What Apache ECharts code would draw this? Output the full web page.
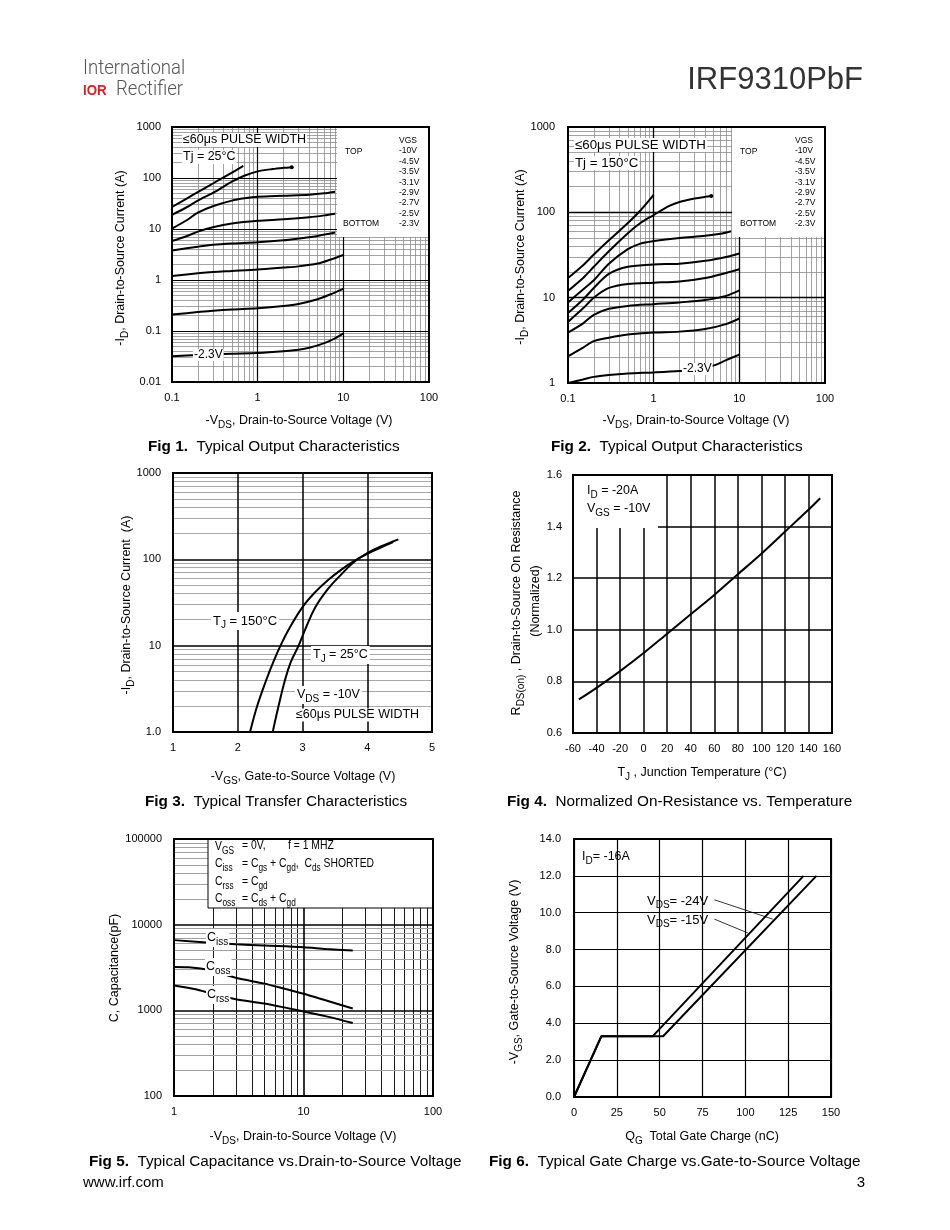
<!DOCTYPE html>
<html><head><meta charset="utf-8">
<script src="https://cdn.jsdelivr.net/npm/echarts@6/dist/echarts.min.js"></script>
<style>html,body{margin:0;padding:0;background:#fff}#c{width:950px;height:1230px}</style>
</head><body><div id="c"></div><script>
// ---------------- DATA ----------------
// Fig 1: Typical Output Characteristics, Tj = 25°C  [-VDS (V), -ID (A)]
const f1_10V = [[0.1,27],[0.15,40],[0.2,53],[0.3,78],[0.45,115],[0.68,172]];
const f1_4V5 = [[0.1,19],[0.15,27],[0.2,36],[0.32,54],[0.5,85],[0.71,112],[1,135],[1.5,150],[2,158],[2.5,163]];
const f1_3V5 = [[0.1,10.2],[0.15,15],[0.2,21],[0.3,28],[0.5,36],[0.7,40],[1,43],[2,45],[4,47],[6,50],[8,54]];
const f1_3V1 = [[0.1,5.8],[0.15,7.3],[0.2,8.9],[0.3,10.8],[0.5,12.8],[1,14.5],[2,15.5],[4,17],[6,18.5],[8,20]];
const f1_2V9 = [[0.1,3.8],[0.2,4.5],[0.3,4.9],[0.5,5.2],[1,5.5],[2,6],[3,6.5],[5,7.3],[8,8.5]];
const f1_2V7 = [[0.1,1.2],[0.2,1.35],[0.3,1.43],[0.5,1.5],[1,1.6],[2,1.75],[3,1.85],[5,2.1],[7,2.5],[10,3.1]];
const f1_2V5 = [[0.1,0.21],[0.2,0.235],[0.3,0.25],[0.5,0.265],[1,0.28],[2,0.31],[3,0.34],[5,0.42],[7,0.52],[10,0.67]];
const f1_2V3 = [[0.1,0.032],[0.2,0.034],[0.3,0.035],[0.5,0.036],[1,0.037],[2,0.04],[3,0.043],[4,0.047],[6,0.058],[8,0.072],[10,0.09]];
// Fig 2: Typical Output Characteristics, Tj = 150°C
const f2_10V = [[0.1,17],[0.15,24],[0.2,32],[0.3,47],[0.5,75],[0.7,105],[1,160]];
const f2_4V5 = [[0.1,12],[0.15,17],[0.2,23],[0.3,35],[0.5,57],[0.7,75],[1,93],[1.5,118],[2,132],[3,145],[4,152],[4.7,155]];
const f2_3V5 = [[0.1,8.8],[0.15,12.5],[0.2,16],[0.3,25],[0.5,37],[0.7,43],[1,46],[2,50],[4,53],[6,56],[8,60]];
const f2_3V1 = [[0.1,6.6],[0.15,9.5],[0.2,13],[0.3,19],[0.5,23],[1,24.5],[2,25],[4,27],[7,30],[10,33]];
const f2_2V9 = [[0.1,5.2],[0.15,7.5],[0.2,10],[0.3,13],[0.5,14.5],[1,15],[2,15.5],[4,17],[7,19.5],[10,21.5]];
const f2_2V7 = [[0.1,3.9],[0.15,5],[0.2,6.3],[0.3,7.4],[0.5,8],[1,8.4],[2,8.8],[4,9.4],[7,10.5],[10,12.2]];
const f2_2V5 = [[0.1,2.05],[0.15,2.6],[0.2,3.1],[0.3,3.4],[0.5,3.7],[1,3.9],[2,4],[4,4.3],[7,4.9],[10,5.7]];
const f2_2V3 = [[0.1,1.0],[0.15,1.1],[0.2,1.18],[0.3,1.24],[0.5,1.29],[1,1.33],[2,1.38],[3,1.43],[5,1.6],[7,1.85],[10,2.15]];
// Fig 3: Typical Transfer Characteristics [-VGS (V), -ID (A)]
const f3_150C = [[2.19,1],[2.3,2],[2.44,4],[2.55,6.5],[2.66,10],[2.8,16],[3.0,28],[3.2,42],[3.4,58],[3.6,76],[3.8,96],[4.0,116],[4.2,136],[4.4,158]];
const f3_25C  = [[2.54,1],[2.63,2],[2.73,4],[2.82,6.5],[2.94,10],[3.05,16],[3.2,28],[3.4,46],[3.6,67],[3.8,94],[4.0,118],[4.2,140],[4.48,170]];
// Fig 4: Normalized On-Resistance vs. Temperature [TJ (°C), RDS(on) norm]
const f4_rdson = [[-55,0.73],[-40,0.775],[-20,0.84],[0,0.91],[20,0.985],[40,1.06],[60,1.135],[80,1.215],[100,1.295],[120,1.38],[140,1.465],[150,1.51]];
// Fig 5: Typical Capacitance [-VDS (V), C (pF)]
const f5_ciss = [[1,6600],[2,6100],[3,5900],[5,5700],[10,5450],[15,5200],[24,5000]];
const f5_coss = [[1,3200],[1.3,3180],[2,2900],[3,2400],[5,2050],[7,1800],[10,1560],[15,1300],[24,1050]];
const f5_crss = [[1,1950],[1.5,1750],[2,1550],[3,1350],[5,1200],[10,970],[15,850],[24,710]];
// Fig 6: Typical Gate Charge [QG (nC), -VGS (V)]
const f6_24V = [[0,0],[16,3.3],[52,3.3],[141.5,12]];
const f6_15V = [[0,0],[16,3.3],[46,3.3],[134,12]];
const f6_lead24 = [[82,10.7],[116,9.65]];
const f6_lead15 = [[82,9.65],[101.5,8.9]];
// Tick labels
const tkF1X = ['0.1','1','10','100'];
const tkF1Y = ['0.01','0.1','1','10','100','1000'];
const tkF2Y = ['1','10','100','1000'];
const tkF3Y = ['1.0','10','100','1000'];
const tkF5X = ['1','10','100'];
const tkF5Y = ['100','1000','10000','100000'];
const vgsList = ['VGS','-10V','-4.5V','-3.5V','-3.1V','-2.9V','-2.7V','-2.5V','-2.3V'];

// ---------------- LAYOUT / HELPERS ----------------
const FF = "'Liberation Sans', Arial, Helvetica, sans-serif";
const G = [
  {l:172, t:127, w:257, h:255},
  {l:568, t:127, w:257, h:256},
  {l:173, t:473, w:259, h:259},
  {l:573, t:475, w:259, h:258},
  {l:174, t:839, w:259, h:257},
  {l:574, t:839, w:257, h:258}
];
function pick(list){ return v => { const s = list.find(t => Math.abs(Number(t)-v) <= 1e-6*Math.max(1,Math.abs(v))); return s === undefined ? '' : s; }; }
function richSet(fs){
  return {
    n:{fontSize:fs, fontFamily:FF, fill:'#000', color:'#000'},
    s:{fontSize:Math.round(fs*0.8), fontFamily:FF, fill:'#000', color:'#000', padding:[Math.round(fs*0.6),0,0,0]},
    b:{fontSize:fs, fontFamily:FF, fontWeight:'bold', fill:'#000', color:'#000'}
  };
}
function toRich(str){
  return str.split(/(_\{[^}]*\}|\*\{[^}]*\})/).filter(p=>p!=='').map(p=>{
    if (p.startsWith('_{')) return '{s|'+p.slice(2,-1)+'}';
    if (p.startsWith('*{')) return '{b|'+p.slice(2,-1)+'}';
    return '{n|'+p+'}';
  }).join('');
}
function txt(str, x, y, o){
  o = o || {};
  const fs = o.fs || 12;
  const st = {
    text: o.raw ? str : toRich(str),
    fontSize: fs, fontFamily: o.ff || FF, fontWeight: o.fw || 'normal', fill: o.fill || '#000',
    align: o.align || 'left', textAlign: o.align || 'left',
    verticalAlign: o.va || 'middle', textVerticalAlign: o.va || 'middle'
  };
  if (!o.raw) st.rich = richSet(fs);
  if (o.lh) st.lineHeight = o.lh;
  if (o.bg) { st.backgroundColor = o.bg; st.padding = o.pad || [0,2,0,2]; }
  const el = {type:'text', x:x, y:y, rotation:o.rot||0, z:o.z||4, silent:true, style:st};
  if (o.sx) el.scaleX = o.sx;
  return el;
}
function rect(x,y,w,h,o){
  o = o || {};
  return {type:'rect', z:o.z||2, silent:true, shape:{x:x,y:y,width:w,height:h},
    style:{fill:o.fill===undefined?'#fff':o.fill, stroke:o.stroke||null, lineWidth:o.lw||0}};
}
function logMinor(lo, hi){ const out=[]; for(let d=lo; d<hi*0.999; d*=10){ for(let k=2;k<=9;k++) out.push(Number((d*k).toPrecision(6))); } return out; }
function logMajor(lo, hi){ const out=[]; for(let d=lo*10; d<hi*0.999; d*=10) out.push(Number(d.toPrecision(6))); return out; }
function ml(axis, vals, color, width){ return vals.map(v => ({[axis]:v, lineStyle:{color:color, width:width, type:'solid'}})); }
function gridSeries(i, items){
  return {type:'line', xAxisIndex:i, yAxisIndex:i, data:[], z:1, silent:true, animation:false,
    markLine:{silent:true, symbol:['none','none'], animation:false, z:1, label:{show:false},
      lineStyle:{type:'solid'}, data:items}};
}
function curve(i, data, extra){
  const s = {type:'line', xAxisIndex:i, yAxisIndex:i, data:data, z:3, smooth:0.3, symbol:'none', showSymbol:false,
    silent:true, animation:false, lineStyle:{color:'#000', width:2}};
  return Object.assign(s, extra||{});
}
function endDot(data){ return {symbol:'circle', symbolSize:4, silent:true, animation:false, itemStyle:{color:'#000'}, label:{show:false}, data:[{coord:data[data.length-1]}]}; }

const axLabel = {fontSize:11, fontFamily:FF, color:'#000', margin:11, showMinLabel:true, showMaxLabel:true};
function xa(i, cfg){ return Object.assign({gridIndex:i, axisLine:{show:false}, axisTick:{show:false}, splitLine:{show:false},
  axisLabel:Object.assign({}, axLabel, {margin:10})}, cfg); }
function ya(i, cfg){ return Object.assign({gridIndex:i, axisLine:{show:false}, axisTick:{show:false}, splitLine:{show:false},
  axisLabel:Object.assign({}, axLabel)}, cfg); }

const GRAY = '#8c8c8c', BLK = '#000';

// ---------------- GRID LINES ----------------
const gl1 = [].concat(ml('xAxis', logMinor(0.1,100), GRAY, 0.8), ml('yAxis', logMinor(0.01,1000), GRAY, 0.8),
                      ml('xAxis', logMajor(0.1,100), BLK, 1.2), ml('yAxis', logMajor(0.01,1000), BLK, 1.2));
const gl2 = [].concat(ml('xAxis', logMinor(0.1,100), GRAY, 0.8), ml('yAxis', logMinor(1,1000), GRAY, 0.8),
                      ml('xAxis', logMajor(0.1,100), BLK, 1.3), ml('yAxis', logMajor(1,1000), BLK, 1.3));
const gl3 = [].concat(ml('yAxis', logMinor(1,1000), '#a8a8a8', 1), ml('yAxis', logMajor(1,1000), BLK, 1.5),
                      ml('xAxis', [2,3,4], BLK, 1.5));
const gl5 = [].concat(ml('xAxis', logMinor(1,100), BLK, 0.9), ml('yAxis', logMinor(100,100000), '#a0a0a0', 1),
                      ml('xAxis', logMajor(1,100), BLK, 1.6), ml('yAxis', logMajor(100,100000), BLK, 1.5));
const lead6 = [
  [{coord:f6_lead24[0], lineStyle:{color:'#000', width:0.8, type:'solid'}},{coord:f6_lead24[1]}],
  [{coord:f6_lead15[0], lineStyle:{color:'#000', width:0.8, type:'solid'}},{coord:f6_lead15[1]}]
];

// ---------------- GRAPHICS ----------------
const gfx = [];
const LIGHT = "Roboto, 'Liberation Sans', sans-serif";
// header / footer
gfx.push(txt('International', 83, 69, {raw:true, fs:20, ff:LIGHT, fw:300, fill:'#555', sx:0.93}));
gfx.push(txt('IOR', 83, 91, {raw:true, fs:14, ff:FF, fw:'bold', fill:'#d3222a', sx:0.95}));
gfx.push(txt('Rectifier', 116, 90, {raw:true, fs:20, ff:LIGHT, fw:300, fill:'#555', sx:0.93}));
gfx.push(txt('IRF9310PbF', 863, 80, {raw:true, fs:31, fill:'#333', align:'right'}));
gfx.push(txt('www.irf.com', 83, 1183, {raw:true, fs:15}));
gfx.push(txt('3', 865, 1183, {raw:true, fs:15, align:'right'}));
// captions
const CF = 15.3;
gfx.push(txt('*{Fig 1.}  Typical Output Characteristics', 148, 447, {fs:CF}));
gfx.push(txt('*{Fig 2.}  Typical Output Characteristics', 551, 447, {fs:CF}));
gfx.push(txt('*{Fig 3.}  Typical Transfer Characteristics', 145, 802, {fs:CF}));
gfx.push(txt('*{Fig 4.}  Normalized On-Resistance vs. Temperature', 507, 802, {fs:CF}));
gfx.push(txt('*{Fig 5.}  Typical Capacitance vs.Drain-to-Source Voltage', 89, 1162, {fs:CF}));
gfx.push(txt('*{Fig 6.}  Typical Gate Charge vs.Gate-to-Source Voltage', 489, 1162, {fs:CF}));
// axis titles
const R = Math.PI/2, TF = 12.5;
gfx.push(txt('-I_{D}, Drain-to-Source Current (A)', 121, 258, {fs:TF, rot:R, align:'center'}));
gfx.push(txt('-V_{DS}, Drain-to-Source Voltage (V)', 299, 421, {fs:TF, align:'center'}));
gfx.push(txt('-I_{D}, Drain-to-Source Current (A)', 521, 257, {fs:TF, rot:R, align:'center'}));
gfx.push(txt('-V_{DS}, Drain-to-Source Voltage (V)', 696, 421, {fs:TF, align:'center'}));
gfx.push(txt('-I_{D}, Drain-to-Source Current  (A)', 127, 605, {fs:TF, rot:R, align:'center'}));
gfx.push(txt('-V_{GS}, Gate-to-Source Voltage (V)', 303, 777, {fs:TF, align:'center'}));
gfx.push(txt('R_{DS(on)} , Drain-to-Source On Resistance', 517, 603, {fs:TF, rot:R, align:'center'}));
gfx.push(txt('(Normalized)', 536, 601, {fs:TF, rot:R, align:'center'}));
gfx.push(txt('T_{J} , Junction Temperature (°C)', 702, 773, {fs:TF, align:'center'}));
gfx.push(txt('C, Capacitance(pF)', 115, 968, {fs:TF, rot:R, align:'center'}));
gfx.push(txt('-V_{DS}, Drain-to-Source Voltage (V)', 303, 1137, {fs:TF, align:'center'}));
gfx.push(txt('-V_{GS}, Gate-to-Source Voltage (V)', 515, 972, {fs:TF, rot:R, align:'center'}));
gfx.push(txt('Q_{G}  Total Gate Charge (nC)', 702, 1137, {fs:TF, align:'center'}));
// Fig1 annotations
gfx.push(rect(337, 128, 91, 109));
gfx.push(txt('≤60μs PULSE WIDTH', 182, 140, {raw:true, fs:12.5, bg:'#fff', pad:[1,1,0,1]}));
gfx.push(txt('Tj = 25°C', 182, 157, {raw:true, fs:12.5, bg:'#fff', pad:[1,1,0,1]}));
gfx.push(txt(vgsList.join('\n'), 399, 135.5, {raw:true, fs:8.5, va:'top', lh:10.4}));
gfx.push(txt('TOP', 345, 151.7, {raw:true, fs:8.5}));
gfx.push(txt('BOTTOM', 343, 224, {raw:true, fs:8.5}));
gfx.push(txt('-2.3V', 193, 355, {raw:true, fs:12, bg:'#fff', pad:[0,1,0,1]}));
// Fig2 annotations
gfx.push(rect(732, 128, 92, 109));
gfx.push(txt('≤60μs PULSE WIDTH', 574, 145, {raw:true, fs:13.3, bg:'#fff', pad:[1,1,0,1]}));
gfx.push(txt('Tj = 150°C', 574, 163, {raw:true, fs:13.3, bg:'#fff', pad:[1,1,0,1]}));
gfx.push(txt(vgsList.join('\n'), 795, 135.5, {raw:true, fs:8.5, va:'top', lh:10.4}));
gfx.push(txt('TOP', 740, 151.7, {raw:true, fs:8.5}));
gfx.push(txt('BOTTOM', 740, 224, {raw:true, fs:8.5}));
gfx.push(txt('-2.3V', 682, 369, {raw:true, fs:12, bg:'#fff', pad:[0,1,0,1]}));
// Fig3 annotations
gfx.push(txt('T_{J} = 150°C', 211, 621, {fs:13, bg:'#fff'}));
gfx.push(txt('T_{J} = 25°C', 311, 655, {fs:12.5, bg:'#fff'}));
gfx.push(txt('V_{DS} = -10V', 295, 695, {fs:12.5, bg:'#fff'}));
gfx.push(txt('≤60μs PULSE WIDTH', 295, 715, {raw:true, fs:12.5, bg:'#fff', pad:[0,1,0,1]}));
// Fig4 annotations
gfx.push(rect(574, 476, 84, 52));
gfx.push(txt('I_{D} = -20A', 587, 491, {fs:12.5}));
gfx.push(txt('V_{GS} = -10V', 587, 509, {fs:12.5}));
// Fig5 annotations
gfx.push(rect(208, 839, 225, 69, {stroke:'#000', lw:1}));
const BF = 12.5, BS = 0.83;
gfx.push(txt('V_{GS}', 215, 847, {fs:BF, sx:BS}));
gfx.push(txt('= 0V,', 242, 846, {fs:BF, sx:BS}));
gfx.push(txt('f = 1 MHZ', 288, 846, {raw:true, fs:BF, sx:BS}));
gfx.push(txt('C_{iss}', 215, 864, {fs:BF, sx:BS}));
gfx.push(txt('= C_{gs} + C_{gd},  C_{ds} SHORTED', 242, 864, {fs:BF, sx:BS}));
gfx.push(txt('C_{rss}', 215, 882, {fs:BF, sx:BS}));
gfx.push(txt('= C_{gd}', 242, 882, {fs:BF, sx:BS}));
gfx.push(txt('C_{oss}', 215, 899, {fs:BF, sx:BS}));
gfx.push(txt('= C_{ds} + C_{gd}', 242, 899, {fs:BF, sx:BS}));
gfx.push(txt('C_{iss}', 206, 938, {fs:12.5, bg:'#fff', pad:[0,1,0,1]}));
gfx.push(txt('C_{oss}', 205, 967, {fs:12.5, bg:'#fff', pad:[0,1,0,1]}));
gfx.push(txt('C_{rss}', 206, 995, {fs:12.5, bg:'#fff', pad:[0,1,0,1]}));
// Fig6 annotations
gfx.push(txt('I_{D}= -16A', 582, 857, {fs:12.5}));
gfx.push(txt('V_{DS}= -24V', 647, 901, {fs:13}));
gfx.push(txt('V_{DS}= -15V', 647, 920, {fs:13}));
// plot borders
G.forEach(g => gfx.push({type:'rect', z:8, silent:true, shape:{x:g.l, y:g.t, width:g.w, height:g.h},
  style:{fill:'none', stroke:'#000', lineWidth:2}}));

// ---------------- OPTION ----------------
const option = {
  backgroundColor:'#fff',
  animation:false,
  grid: G.map(g => ({left:g.l, top:g.t, width:g.w, height:g.h, show:false})),
  xAxis: [
    xa(0, {type:'log', logBase:10, min:0.1, max:100, axisLabel:Object.assign({}, axLabel, {margin:10, formatter:pick(tkF1X)})}),
    xa(1, {type:'log', logBase:10, min:0.1, max:100, axisLabel:Object.assign({}, axLabel, {margin:10, formatter:pick(tkF1X)})}),
    xa(2, {type:'value', min:1, max:5, interval:1}),
    xa(3, {type:'value', min:-60, max:160, interval:20, splitLine:{show:true, lineStyle:{color:'#000', width:1.5}}}),
    xa(4, {type:'log', logBase:10, min:1, max:100, axisLabel:Object.assign({}, axLabel, {margin:10, formatter:pick(tkF5X)})}),
    xa(5, {type:'value', min:0, max:150, interval:25, splitLine:{show:true, lineStyle:{color:'#000', width:1.2}}})
  ],
  yAxis: [
    ya(0, {type:'log', logBase:10, min:0.01, max:1000, axisLabel:Object.assign({}, axLabel, {formatter:pick(tkF1Y)})}),
    ya(1, {type:'log', logBase:10, min:1, max:1000, axisLabel:Object.assign({}, axLabel, {margin:13, formatter:pick(tkF2Y)})}),
    ya(2, {type:'log', logBase:10, min:1, max:1000, axisLabel:Object.assign({}, axLabel, {margin:12, formatter:pick(tkF3Y)})}),
    ya(3, {type:'value', min:0.6, max:1.6, interval:0.2, splitLine:{show:true, lineStyle:{color:'#000', width:1.5}},
      axisLabel:Object.assign({}, axLabel, {formatter:v=>v.toFixed(1)})}),
    ya(4, {type:'log', logBase:10, min:100, max:100000, axisLabel:Object.assign({}, axLabel, {margin:12, formatter:pick(tkF5Y)})}),
    ya(5, {type:'value', min:0, max:14, interval:2, splitLine:{show:true, lineStyle:{color:'#000', width:1.2}},
      axisLabel:Object.assign({}, axLabel, {margin:13, formatter:v=>v.toFixed(1)})})
  ],
  series: [
    gridSeries(0, gl1), gridSeries(1, gl2), gridSeries(2, gl3), gridSeries(4, gl5), gridSeries(5, lead6),
    curve(0, f1_10V), curve(0, f1_4V5, {markPoint:endDot(f1_4V5)}), curve(0, f1_3V5), curve(0, f1_3V1),
    curve(0, f1_2V9), curve(0, f1_2V7), curve(0, f1_2V5), curve(0, f1_2V3),
    curve(1, f2_10V), curve(1, f2_4V5, {markPoint:endDot(f2_4V5)}), curve(1, f2_3V5), curve(1, f2_3V1),
    curve(1, f2_2V9), curve(1, f2_2V7), curve(1, f2_2V5), curve(1, f2_2V3),
    curve(2, f3_150C, {smooth:0.4}), curve(2, f3_25C, {smooth:0.4}),
    curve(3, f4_rdson),
    curve(4, f5_ciss), curve(4, f5_coss), curve(4, f5_crss),
    curve(5, f6_24V, {smooth:false}), curve(5, f6_15V, {smooth:false})
  ],
  graphic: {elements: gfx}
};
const chart = echarts.init(document.getElementById('c'), null, {renderer:'canvas', width:950, height:1230});
chart.setOption(option);
</script></body></html>
